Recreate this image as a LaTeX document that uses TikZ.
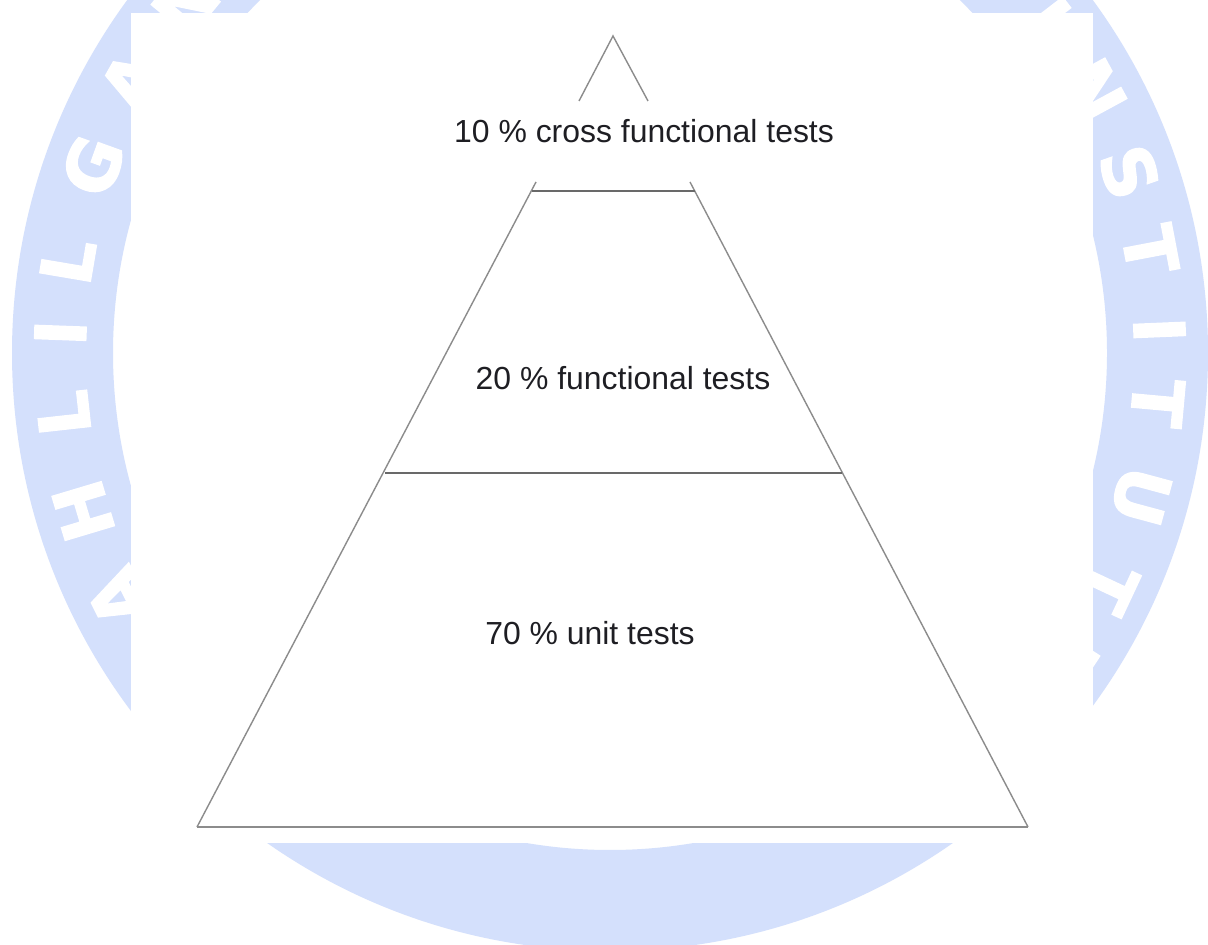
\documentclass[tikz,border=0pt]{standalone}
\usepackage{fontspec}
\setmainfont{Liberation Sans}
\newfontfamily\wmfont[FakeBold=2]{DejaVu Sans}
\definecolor{wmblue}{RGB}{212,224,252}
\definecolor{edgegray}{RGB}{140,140,140}
\definecolor{hgray}{RGB}{105,105,105}
\definecolor{txt}{RGB}{30,30,35}
\begin{document}
\begin{tikzpicture}[x=0.025cm,y=0.025cm,
  wm/.style={text=white, font=\wmfont\bfseries\fontsize{50}{50}\selectfont, inner sep=0pt},
  slant/.style={draw=edgegray, line width=1pt},
  hline/.style={draw=hgray, line width=1.1pt},
  lbl/.style={text=txt, font=\fontsize{22.7}{26}\selectfont, inner sep=0pt}]
\useasboundingbox (0,0) rectangle (1208,945);
\fill[white] (0,0) rectangle (1208,945);
% watermark ring
\begin{scope}
\clip (0,0) rectangle (1208,945);
\fill[wmblue, even odd rule] (610,592) circle[radius=598] (610,592) circle[radius=497];
\foreach \a/\c [count=\i] in {206.5/A,196.7/H,186.3/L,177.9/I,170.4/L,160.1/G,150.4/A,140.5/N,
  37.5/I,28.5/N,19.2/S,10.8/T,2.4/I,-5.2/T,-15.1/U,-25.1/T,-33.5/E}
  \node[wm, rotate=\a-90] (wm\i) at ([shift={(\a:550)}]610,592) {\c};
\end{scope}
\fill[white] (131,102) rectangle (1093,932);
% pyramid
\coordinate (apex) at (613,909);
\coordinate (tl) at (579,844);
\coordinate (tr) at (648,844);
\coordinate (ml) at (536,763);
\coordinate (mr) at (690,763);
\coordinate (hl) at (532,754);
\coordinate (hr) at (695,754);
\coordinate (cl) at (385,472);
\coordinate (cr) at (842,472);
\coordinate (bl) at (197,118);
\coordinate (br) at (1028,118);
\draw[slant] (tl) -- (apex) -- (tr);
\draw[slant] (ml) -- (bl);
\draw[slant] (mr) -- (br);
\draw[hline] (hl) -- (hr);
\draw[hline] (cl) -- (cr);
\draw[slant] (bl) -- (br);
\node[lbl] (t10) at (644,814) {10 \% cross functional tests};
\node[lbl] (t20) at (623,567) {20 \% functional tests};
\node[lbl] (t70) at (590,312) {70 \% unit tests};
\end{tikzpicture}
\end{document}
